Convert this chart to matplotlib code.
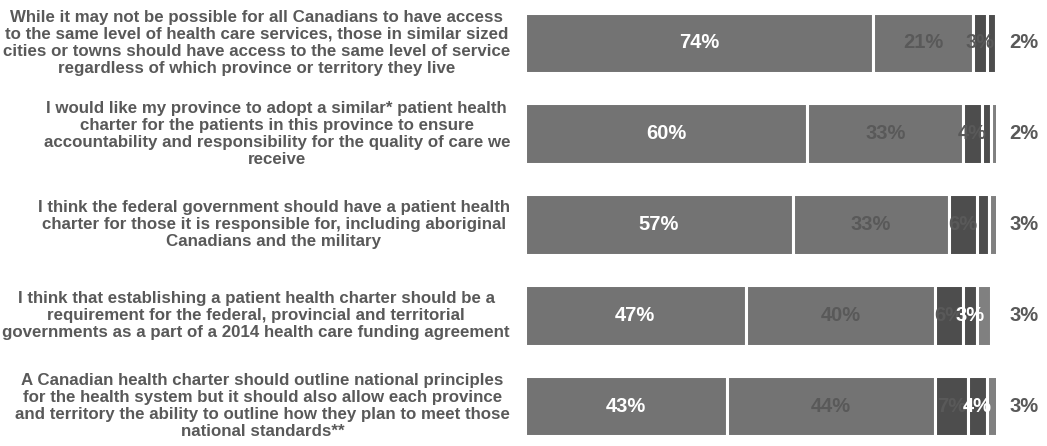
import matplotlib
matplotlib.use("Agg")
import matplotlib.pyplot as plt

statements = [
    "While it may not be possible for all Canadians to have access\n"
    "to the same level of health care services, those in similar sized\n"
    "cities or towns should have access to the same level of service\n"
    "regardless of which province or territory they live",
    "I would like my province to adopt a similar* patient health\n"
    "charter for the patients in this province to ensure\n"
    "accountability and responsibility for the quality of care we\n"
    "receive",
    "I think the federal government should have a patient health\n"
    "charter for those it is responsible for, including aboriginal\n"
    "Canadians and the military",
    "I think that establishing a patient health charter should be a\n"
    "requirement for the federal, provincial and territorial\n"
    "governments as a part of a 2014 health care funding agreement",
    "A Canadian health charter should outline national principles\n"
    "for the health system but it should also allow each province\n"
    "and territory the ability to outline how they plan to meet those\n"
    "national standards**",
]

strongly_agree = [74, 60, 57, 47, 43]
somewhat_agree = [21, 33, 33, 40, 44]
somewhat_disagree = [3, 4, 6, 6, 7]
strongly_disagree = [2, 2, 2.5, 3, 4]
dont_know = [0, 2, 2, 3, 3]
dont_know_labels = [2, 2, 3, 3, 3]
show_sd_label = [False, False, False, True, True]

W, H = 1047, 446
fig = plt.figure(figsize=(W / 100, H / 100), dpi=100)
plt.rcParams['font.family'] = ['Liberation Sans', 'DejaVu Sans']

# axes spans bar area; x: 0..100 %
x0, x100 = 524.5, 996.1
ax = fig.add_axes([x0 / W, 0, (x100 - x0) / W, 1])
ax.set_xlim(0, 100)
top_c, step = 43, 90.75
ax.set_ylim((H - top_c) / step, -top_c / step)
ax.axis('off')

txt_dark = '#595959'
segments = [
    (strongly_agree, '#737373', 'white'),
    (somewhat_agree, '#737373', txt_dark),
    (somewhat_disagree, '#4d4d4d', txt_dark),
    (strongly_disagree, '#4d4d4d', 'white'),
    (dont_know, '#808080', None),
]

ypos = list(range(len(statements)))
left = [0] * len(ypos)
for k, (vals, color, tcol) in enumerate(segments):
    bars = ax.barh(ypos, vals, left=left, height=0.672, color=color,
                   edgecolor='white', linewidth=2.2)
    for i, (b, v) in enumerate(zip(bars, vals)):
        if tcol is None or v == 0:
            continue
        if k == 3 and not show_sd_label[i]:
            continue
        ax.text(b.get_x() + b.get_width() / 2, i, f"{v:.0f}%", ha='center',
                va='center', color=tcol, fontsize=14.5, fontweight='bold')
    left = [l + v for l, v in zip(left, vals)]

for i, v in enumerate(dont_know_labels):
    ax.text(105.9, i, f"{v}%", ha='center', va='center', color=txt_dark,
            fontsize=14.5, fontweight='bold', clip_on=False)

for i, s in enumerate(statements):
    fig.text(510 / W, 1 - (top_c + step * i) / H, s, ha='right', va='center',
             multialignment='center', fontsize=12.2, fontweight='bold',
             color=txt_dark, linespacing=1.17)

fig.savefig('out.png', dpi=100)
